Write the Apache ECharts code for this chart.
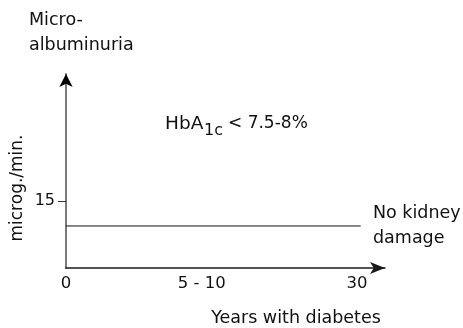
<!DOCTYPE html>
<html>
<head>
<meta charset="utf-8">
<script src="https://cdn.jsdelivr.net/npm/echarts@6/dist/echarts.min.js"></script>
<style>html,body{margin:0;padding:0;background:#fff}#c{width:463px;height:328px}</style>
</head>
<body>
<div id="c"></div>
<script>
// ---- data ----
var xTickValues = [0, 14, 30];
var xTickLabels = ['0', '5 - 10', '30'];
var yTickValues = [15];
var yTickLabels = ['15'];
var lineX = [0, 30.4];
var lineY = [9.4, 9.4];
var xMax = 32.9;
var yMax = 43.4;
var yTitle = 'microg./min.';
var xTitle = 'Years with diabetes';
var topTitle = 'Micro-\nalbuminuria';
var lineLabel = 'No kidney\ndamage';
var hbParts = ['HbA', '1c', '< 7.5-8%'];

var FONT = 'DejaVu Sans';
var chart = echarts.init(document.getElementById('c'), null, {renderer: 'canvas'});
var pts = lineX.map(function (x, i) { return [x, lineY[i]]; });

chart.setOption({
  animation: false,
  backgroundColor: '#fff',
  grid: {left: 66, right: 78, top: 74, bottom: 60, containLabel: false},
  xAxis: {
    type: 'value', min: 0, max: xMax,
    axisLine: {show: true, symbol: ['none', 'arrow'], symbolSize: [9, 15],
      lineStyle: {color: '#1a1a1a', width: 1.5}},
    axisTick: {show: false},
    splitLine: {show: false},
    axisLabel: {
      customValues: xTickValues, margin: 7,
      fontFamily: FONT, fontSize: 16.5, color: '#111',
      formatter: function (v) { var i = xTickValues.indexOf(v); return i >= 0 ? xTickLabels[i] : ''; }
    }
  },
  yAxis: [{
    type: 'value', min: 0, max: yMax, position: 'left',
    axisLine: {show: true, lineStyle: {color: '#7a7a7a', width: 2}},
    axisTick: {show: true, customValues: yTickValues, length: 8, lineStyle: {color: '#333', width: 1}},
    splitLine: {show: false},
    axisLabel: {
      customValues: yTickValues, margin: 11,
      fontFamily: FONT, fontSize: 16, color: '#111',
      formatter: function (v) { var i = yTickValues.indexOf(v); return i >= 0 ? yTickLabels[i] : ''; }
    }
  }, {
    type: 'value', min: 0, max: yMax, position: 'left', offset: 0,
    axisLine: {show: true, symbol: ['none', 'arrow'], symbolSize: [10, 13],
      lineStyle: {color: '#000', opacity: 0}},
    axisTick: {show: false}, axisLabel: {show: false}, splitLine: {show: false}
  }],
  series: [{
    type: 'line', data: pts, symbol: 'none',
    lineStyle: {color: '#111', width: 1}, silent: true
  }],
  graphic: [
    {type: 'text', left: 29, top: 8, style: {text: topTitle, font: '17.5px "DejaVu Sans"', fill: '#111', lineHeight: 25}},
    {type: 'text', left: 373, top: 201, style: {text: lineLabel, font: '17.5px "DejaVu Sans"', fill: '#111', lineHeight: 25}},
    {type: 'text', x: 18, y: 188, rotation: Math.PI / 2,
      style: {text: yTitle, font: '17px "DejaVu Sans"', fill: '#111', align: 'center', verticalAlign: 'middle'}},
    {type: 'text', x: 296, y: 318,
      style: {text: xTitle, font: '17.5px "DejaVu Sans"', fill: '#111', align: 'center', verticalAlign: 'middle'}},
    {type: 'text', x: 165, y: 124,
      style: {text: hbParts[0], font: '18.5px "DejaVu Sans"', fill: '#111', align: 'left', verticalAlign: 'middle'}},
    {type: 'text', x: 204, y: 131,
      style: {text: hbParts[1], font: '16px "DejaVu Sans"', fill: '#111', align: 'left', verticalAlign: 'middle'}},
    {type: 'text', x: 228, y: 124,
      style: {text: hbParts[2], font: '17px "DejaVu Sans"', fill: '#111', align: 'left', verticalAlign: 'middle'}}
  ]
});
</script>
</body>
</html>
